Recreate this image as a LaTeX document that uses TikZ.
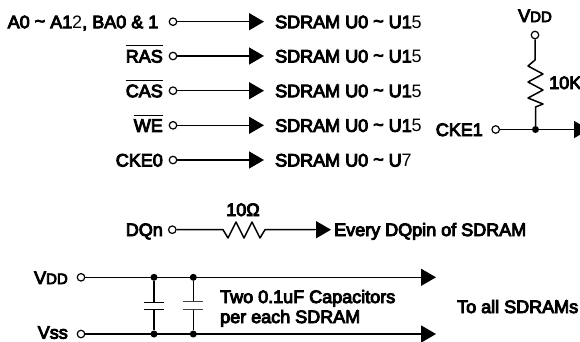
\documentclass[tikz,border=0pt]{standalone}
\usepackage{fontspec}
\setmainfont{Liberation Sans}
\newfontfamily\hv[FakeBold=5]{Liberation Sans}
\usetikzlibrary{arrows.meta}
\tikzset{
  x=1pt,y=-1pt,
  wire/.style={line width=1.5pt,draw=black},
  sig/.style={wire,-{Triangle[length=15pt,width=17pt]}},
  pin/.style={circle,draw=black,line width=1.2pt,fill=white,inner sep=0pt,minimum size=7.5pt},
  dot/.style={circle,fill=black,inner sep=0pt,minimum size=7pt},
  lab/.style={inner sep=0pt,font=\hv\fontsize{18}{20}\selectfont},
  rlab/.style={lab,anchor=base east},
  llab/.style={lab,anchor=base west},
  clab/.style={lab,anchor=base},
  plate/.style={line width=1.5pt,draw=black},
  lplate/.style={line width=1pt,draw=black!75},
}
\newcommand{\lt}[1]{{\fontspec{Liberation Sans}#1}}
\newcommand{\sm}[1]{{\fontsize{15}{16}\selectfont #1}}
\newcommand{\negsig}[1]{$\overline{\hbox{\rule{0pt}{15.5pt}#1}}$}
\begin{document}
\begin{tikzpicture}
\useasboundingbox (0,0) rectangle (580,341);
\clip (0,0) rectangle (580,341);
\fill[white] (0,0) rectangle (580,341);
% address and control rows
\foreach \n/\y/\e/\t/\u in {
 a/21.7/158.5/{A0 \raisebox{1pt}{\textasciitilde} A1\lt{2}, BA0 \& 1}/{U1\lt{5}},
 b/56/163/{\negsig{RAS}}/{U1\lt{5}},
 c/90.7/163/{\negsig{CAS}}/{U1\lt{5}},
 d/125.3/163/{\negsig{WE}}/{U1\lt{5}},
 e/160/163/{CKE0}/{U\lt{7}}}{
  \node[pin] (p\n) at (173,\y) {};
  \coordinate (t\n) at (264,\y);
  \draw[sig] (p\n) -- (t\n);
  \node[rlab] (l\n) at (\e,\y+6.5) {\t};
  \node[llab] (s\n) at (275,\y+6.5) {SDRAM U0 \raisebox{1pt}{\textasciitilde} \u};
}
% pull-up
\node[pin] (vp) at (535,35) {};
\node[clab] (vl) at (535,22) {V\sm{DD}};
\node[pin] (cp) at (495.7,129.5) {};
\node[rlab] (cl) at (483,136) {CKE1};
\node[dot] (cj) at (535.5,129.5) {};
\coordinate (ct) at (589,129.5);
\draw[sig] (cp) -- (ct);
\draw[wire,line join=round] (vp) -- (535,60) -- (528,66) -- (543,74) -- (528,82) -- (543,90) -- (528,98) -- (543,104) -- (535.5,107) -- (cj);
\node[llab] (tenk) at (549,89) {10K};
% DQ
\node[pin] (dp) at (172.3,229.7) {};
\node[rlab] (dl) at (163,236) {DQn};
\coordinate (dt) at (331,229.7);
\draw[wire,line join=round] (dp) -- (223,229.7) -- (228,238) -- (236,222) -- (244,238) -- (252,222) -- (260,238) -- (265,229.7) -- (315,229.7);
\draw[sig] (315,229.7) -- (dt);
\node[clab] (ohm) at (243,216) {10Ω};
\node[llab] (dq) at (334,236) {Every DQpin of SDRAM};
% rails
\node[pin] (vdd) at (81,277.3) {};
\node[pin] (vss) at (81,334) {};
\node[rlab] (vddl) at (68,284) {V\sm{DD}};
\node[rlab] (vssl) at (68,338.7) {Vss};
\coordinate (vddt) at (436,277.3);
\coordinate (vsst) at (436,334);
\draw[sig] (vdd) -- (vddt);
\draw[sig] (vss) -- (vsst);
\node[dot] (j1) at (154,277.3) {};
\node[dot] (j2) at (193.3,277.3) {};
\node[dot] (j3) at (154,334) {};
\node[dot] (j4) at (193.3,334) {};
\coordinate (c1a) at (154,302.7);
\coordinate (c1b) at (154,309.3);
\coordinate (c2a) at (193.3,301.7);
\coordinate (c2b) at (193.3,309);
\draw[wire] (j1) -- (c1a);
\draw[wire] (j3) -- (c1b);
\draw[wire] (j2) -- (c2a);
\draw[wire] (j4) -- (c2b);
\draw[plate] (144,302.7) -- (164,302.7);
\draw[plate] (144,309.3) -- (164,309.3);
\draw[lplate] (183.3,301.7) -- (203.3,301.7);
\draw[lplate] (183.3,309) -- (203.3,309);
\node[llab] (cap1) at (220,303) {Two 0.1uF Capacitors};
\node[llab] (cap2) at (220,323) {per each SDRAM};
\node[llab] (toall) at (457,313) {To all SDRAMs};
\end{tikzpicture}
\end{document}
